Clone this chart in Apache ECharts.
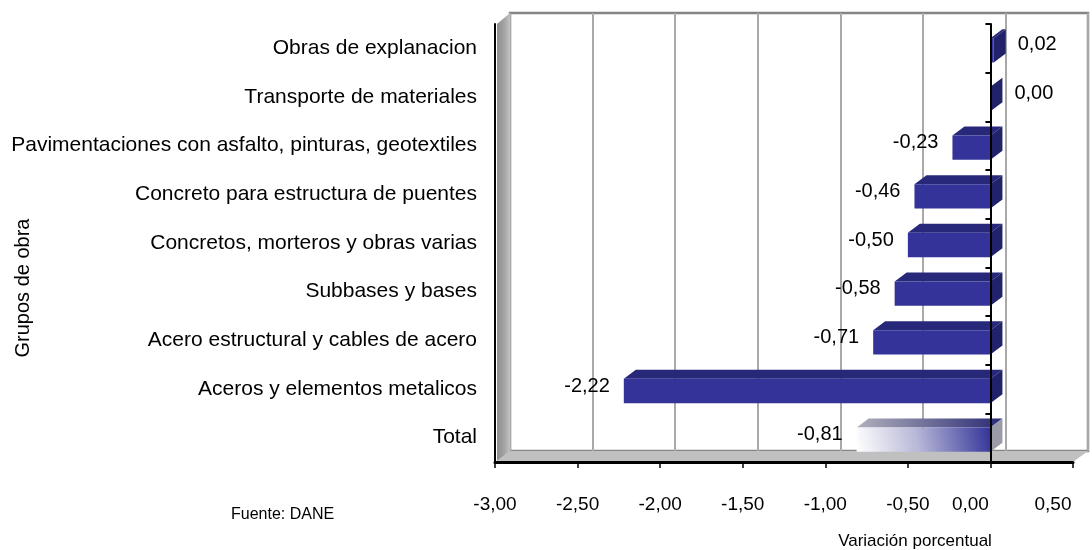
<!DOCTYPE html>
<html><head><meta charset="utf-8">
<script src="https://cdn.jsdelivr.net/npm/echarts@6/dist/echarts.min.js"></script>
<style>html,body{margin:0;padding:0;background:#fff}#c{width:1092px;height:550px}</style>
</head><body><div id="c"></div>
<script>
// ---- data ----
const categories = [
  'Total',
  'Aceros y elementos metalicos',
  'Acero estructural y cables de acero',
  'Subbases y bases',
  'Concretos, morteros y obras varias',
  'Concreto para estructura de puentes',
  'Pavimentaciones con asfalto, pinturas, geotextiles',
  'Transporte de materiales',
  'Obras de explanacion'
];
const values = [-0.81, -2.22, -0.71, -0.58, -0.50, -0.46, -0.23, 0.00, 0.02];
const xMin = -3, xMax = 0.5, xStep = 0.5;
const yAxisTitle = 'Grupos de obra';
const xAxisTitle = 'Variación porcentual';
const sourceNote = 'Fuente: DANE';

const FONT = 'Liberation Sans, Arial, sans-serif';
const fmt = v => v.toFixed(2).replace('.', ',').replace(/^-0,00$/, '0,00');

// layout
const G = {left: 495, right: 19, top: 24, bottom: 88};
const DEPTH_X = 15, DEPTH_Y = 11;
const BAR_DX = 12, BAR_DY = 9;

const chart = echarts.init(document.getElementById('c'), null, {renderer: 'canvas'});

function renderBar(params, api) {
  const v = api.value(0), ci = api.value(1);
  const p0 = api.coord([0, ci]);
  const p1 = api.coord([v, ci]);
  const band = api.size([0, 1])[1];
  const h = band * 0.5;
  const cy = p0[1] + 2;
  const xl = Math.min(p0[0], p1[0]), xr = Math.max(p0[0], p1[0]);
  const yt = cy - h / 2, yb = cy + h / 2;
  const isTotal = categories[ci] === 'Total';
  const frontFill = isTotal
    ? new echarts.graphic.LinearGradient(0, 1, 1, 0, [
        {offset: 0, color: '#ffffff'}, {offset: 0.45, color: '#b8b8d8'}, {offset: 1, color: '#333399'}])
    : '#333399';
  const topFill = isTotal
    ? new echarts.graphic.LinearGradient(0, 0, 1, 0, [
        {offset: 0, color: '#b0b0bc'}, {offset: 1, color: '#2a2a75'}])
    : '#28287a';
  const sideFill = isTotal ? '#9a9aa8' : '#22226a';
  const children = [
    {type: 'polygon', shape: {points: [[xl, yt], [xr, yt], [xr + BAR_DX, yt - BAR_DY], [xl + BAR_DX, yt - BAR_DY]]},
     style: {fill: topFill}},
    {type: 'polygon', shape: {points: [[xr, yt], [xr + BAR_DX, yt - BAR_DY], [xr + BAR_DX, yb - BAR_DY], [xr, yb]]},
     style: {fill: sideFill}},
    {type: 'rect', shape: {x: xl, y: yt, width: xr - xl, height: h}, style: {fill: frontFill}}
  ];
  const neg = v < 0;
  children.push({
    type: 'text', z2: 10,
    style: {
      text: fmt(v),
      x: neg ? xl - 14 : xr + BAR_DX + 12,
      y: cy - (neg ? 5 : 6),
      align: neg ? 'right' : 'left',
      verticalAlign: 'middle',
      fontSize: 20, fontFamily: FONT, fill: '#000'
    }
  });
  return {type: 'group', children};
}

const wallTop = G.top - DEPTH_Y;
const frontBottom = 550 - G.bottom;
const frontRight = 1092 - G.right;

chart.setOption({
  animation: false,
  backgroundColor: '#fff',
  grid: [
    {left: G.left, right: G.right, top: G.top, bottom: G.bottom, containLabel: false},
    {left: G.left + DEPTH_X, right: G.right - DEPTH_X, top: G.top - DEPTH_Y, bottom: G.bottom + DEPTH_Y,
     show: true, backgroundColor: '#fff', borderColor: '#858585', borderWidth: 2.5, z: 0}
  ],
  xAxis: [
    {type: 'value', gridIndex: 0, min: xMin, max: xMax, interval: xStep, z: 6,
     axisLine: {show: true, onZero: false, lineStyle: {color: '#000', width: 3}},
     axisTick: {show: true, length: 6, lineStyle: {color: '#000', width: 1.5}},
     splitLine: {show: false},
     axisLabel: {margin: 33, fontSize: 19, fontFamily: FONT, color: '#000',
       formatter: v => v >= 0 ? '{p|' + fmt(v) + '}' : fmt(v),
       rich: {p: {fontSize: 19, fontFamily: FONT, color: '#000', padding: [0, 40, 0, 0]}}}},
    {type: 'value', gridIndex: 1, min: xMin, max: xMax, interval: xStep,
     axisLine: {show: false}, axisTick: {show: false}, axisLabel: {show: false},
     splitLine: {show: true, lineStyle: {color: '#a9a9a9', width: 2}}}
  ],
  yAxis: [
    {type: 'category', gridIndex: 0, data: categories, position: 'left', z: 6,
     axisLine: {show: true, onZero: false, lineStyle: {color: '#000', width: 2}},
     axisTick: {show: false},
     axisLabel: {margin: 18, fontSize: 21, fontFamily: FONT, color: '#000'}},
    {type: 'category', gridIndex: 0, data: categories, position: 'left', z: 7,
     axisLine: {show: true, onZero: true, lineStyle: {color: '#000', width: 2}},
     axisTick: {show: true, length: 5, lineStyle: {color: '#000', width: 2}},
     axisLabel: {show: false}},
    {type: 'value', gridIndex: 1, show: false}
  ],
  graphic: [
    {type: 'polygon', z: 1, silent: true,
     shape: {points: [[G.left + 2, G.top], [G.left + DEPTH_X, wallTop], [G.left + DEPTH_X, frontBottom - DEPTH_Y], [G.left + 2, frontBottom]]},
     style: {fill: new echarts.graphic.LinearGradient(0, 0, 1, 0, [{offset: 0, color: '#8c8c8c'}, {offset: 0.6, color: '#a6a6a6'}, {offset: 1, color: '#c4c4c4'}])}},
    {type: 'polygon', z: 1, silent: true,
     shape: {points: [[G.left, frontBottom], [G.left + DEPTH_X, frontBottom - DEPTH_Y], [frontRight + DEPTH_X, frontBottom - DEPTH_Y], [frontRight, frontBottom]]},
     style: {fill: '#c0c0c0'}},
    {type: 'text', z: 10, x: 231, y: 515,
     style: {text: sourceNote, fontSize: 16, fontFamily: FONT, fill: '#000', align: 'left', verticalAlign: 'middle'}},
    {type: 'text', z: 10, x: 915, y: 541,
     style: {text: xAxisTitle, fontSize: 17, fontFamily: FONT, fill: '#000', align: 'center', verticalAlign: 'middle'}},
    {type: 'text', z: 10, x: 23, y: 288, rotation: Math.PI / 2,
     style: {text: yAxisTitle, fontSize: 20, fontFamily: FONT, fill: '#000', align: 'center', verticalAlign: 'middle'}}
  ],
  series: [{
    type: 'custom', xAxisIndex: 0, yAxisIndex: 0, z: 4,
    renderItem: renderBar,
    encode: {x: 0, y: 1},
    data: values.map((v, i) => [v, i])
  }]
});
</script>
</body></html>
